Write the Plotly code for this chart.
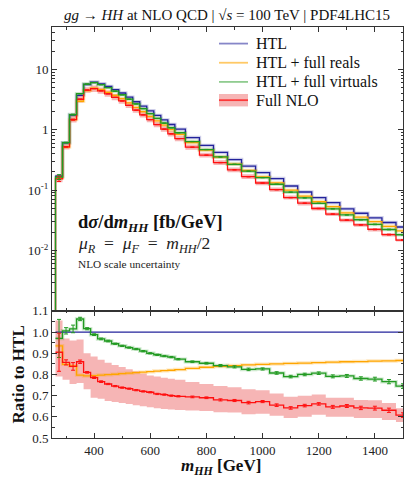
import plotly.graph_objects as go
from plotly.subplots import make_subplots

# ---------------- data ----------------
m_hh = [275, 300, 325, 350, 375, 400, 425, 450, 475, 500, 525, 550, 575, 600, 625, 650, 675, 700,
        750, 800, 850, 900, 950, 1000, 1050, 1100, 1150, 1200, 1250, 1300, 1350, 1400, 1450, 1500]

htl = [0.17, 0.607, 1.75, 3.71, 5.6, 6.1, 5.75, 5.2, 4.6, 4.05, 3.45, 2.9, 2.45, 2.05, 1.72, 1.45, 1.22, 1.02,
       0.74, 0.55, 0.42, 0.32, 0.25, 0.195, 0.155, 0.117, 0.093, 0.075, 0.062, 0.049, 0.0414, 0.0348, 0.0291, 0.0245]

ratio_reals = [0.935, 0.848, 0.84, 0.797, 0.793, 0.795, 0.797, 0.799, 0.801, 0.804, 0.806, 0.809, 0.811, 0.813,
               0.816, 0.818, 0.82, 0.823, 0.829, 0.834, 0.838, 0.842, 0.845, 0.848, 0.85, 0.852, 0.854, 0.856,
               0.858, 0.86, 0.861, 0.863, 0.864, 0.866]

ratio_virt = [0.97, 1.006, 1.015, 1.062, 1.016, 0.988, 0.968, 0.958, 0.945, 0.935, 0.927, 0.92, 0.91, 0.9,
              0.893, 0.887, 0.882, 0.872, 0.86, 0.853, 0.842, 0.836, 0.824, 0.826, 0.807, 0.79, 0.80, 0.806,
              0.791, 0.793, 0.781, 0.778, 0.766, 0.745]
err_virt = [0.09, 0.015, 0.018, 0.008, 0.005, 0.004, 0.004, 0.004, 0.003, 0.003, 0.003, 0.003, 0.003, 0.003,
            0.003, 0.003, 0.003, 0.003, 0.004, 0.004, 0.005, 0.005, 0.006, 0.005, 0.006, 0.006, 0.006, 0.006,
            0.007, 0.007, 0.008, 0.009, 0.01, 0.011]

ratio_nlo = [0.905, 0.857, 0.838, 0.86, 0.81, 0.785, 0.766, 0.755, 0.745, 0.738, 0.733, 0.726, 0.72, 0.716,
             0.708, 0.705, 0.7, 0.697, 0.694, 0.69, 0.68, 0.677, 0.667, 0.672, 0.655, 0.642, 0.653, 0.661,
             0.647, 0.651, 0.642, 0.641, 0.631, 0.608]
err_nlo = [0.09, 0.012, 0.018, 0.008, 0.004, 0.004, 0.004, 0.003, 0.003, 0.003, 0.003, 0.003, 0.003, 0.003,
           0.003, 0.003, 0.003, 0.003, 0.004, 0.004, 0.005, 0.005, 0.006, 0.005, 0.006, 0.006, 0.006, 0.006,
           0.007, 0.007, 0.008, 0.009, 0.01, 0.011]
nlo_up = [1.055, 0.97, 0.96, 0.965, 0.9, 0.885, 0.87, 0.855, 0.845, 0.835, 0.825, 0.815, 0.805, 0.795,
          0.79, 0.785, 0.78, 0.775, 0.765, 0.755, 0.745, 0.74, 0.73, 0.725, 0.71, 0.695, 0.7, 0.705,
          0.69, 0.69, 0.68, 0.678, 0.665, 0.64]
nlo_lo = [0.79, 0.775, 0.755, 0.76, 0.73, 0.69, 0.685, 0.675, 0.67, 0.665, 0.66, 0.655, 0.65, 0.645,
          0.64, 0.637, 0.635, 0.632, 0.63, 0.628, 0.622, 0.62, 0.612, 0.615, 0.605, 0.595, 0.6, 0.61,
          0.6, 0.6, 0.595, 0.594, 0.585, 0.575]

x_ticks = [400, 600, 800, 1000, 1200, 1400]
ratio_ticks = [0.5, 0.6, 0.7, 0.8, 0.9, 1.0, 1.1]
log_ticks = [0.01, 0.1, 1, 10]
log_ticktext = ["10<sup>-2</sup>", "10<sup>-1</sup>", "1", "10"]

legend_labels = ["HTL", "HTL + full reals", "HTL + full virtuals", "Full NLO"]

# ---------------- style ----------------
C_BLUE = "#23239b"
C_ORANGE = "#ffa500"
C_GREEN = "#229a22"
C_RED = "#ff1010"
C_BAND = "rgba(236,92,92,0.45)"
HALO = {"#23239b": "rgba(35,35,155,0.22)", "#ffa500": "rgba(255,165,0,0.25)",
        "#229a22": "rgba(34,154,34,0.22)"}
LEG_COL = {"#23239b": "rgba(35,35,155,0.55)", "#ffa500": "rgba(255,165,0,0.6)",
           "#229a22": "rgba(34,154,34,0.5)", "#ff1010": "rgba(255,16,16,0.75)"}
FONT = "Liberation Serif"

# ---------------- helpers ----------------
n = len(m_hh)
edges = [m_hh[0] - (m_hh[1] - m_hh[0]) / 2]
edges += [(m_hh[i] + m_hh[i + 1]) / 2 for i in range(n - 1)]
edges += [m_hh[-1] + (m_hh[-1] - m_hh[-2]) / 2]


def steps(vals, floor=None):
    xs = list(edges)
    ys = list(vals) + [vals[-1]]
    if floor is not None:
        xs = [edges[0]] + xs
        ys = [floor] + ys
    return xs, ys


ones = [h / h for h in htl]
reals = [h * r for h, r in zip(htl, ratio_reals)]
virt = [h * r for h, r in zip(htl, ratio_virt)]
nlo = [h * r for h, r in zip(htl, ratio_nlo)]
nlo_abs_up = [h * r for h, r in zip(htl, nlo_up)]
nlo_abs_lo = [h * r for h, r in zip(htl, nlo_lo)]
virt_abs_err = [h * e for h, e in zip(htl, err_virt)]
nlo_abs_err = [h * e for h, e in zip(htl, err_nlo)]

fig = make_subplots(rows=2, cols=1, shared_xaxes=True, vertical_spacing=0)

FLOOR = 1e-5
LW = 1.3

# ---- top panel ----
xs, ys = steps(nlo_abs_up)
fig.add_trace(go.Scatter(x=xs, y=ys, mode="lines", line=dict(width=0, shape="hv"),
                         hoverinfo="skip", showlegend=False), row=1, col=1)
xs, ys = steps(nlo_abs_lo)
fig.add_trace(go.Scatter(x=xs, y=ys, mode="lines", line=dict(width=0, shape="hv"),
                         fill="tonexty", fillcolor=C_BAND, hoverinfo="skip", showlegend=False), row=1, col=1)

for vals, col in [(htl, C_BLUE), (reals, C_ORANGE), (virt, C_GREEN)]:
    xs, ys = steps(vals)
    fig.add_trace(go.Scatter(x=xs, y=ys, mode="lines", line=dict(color=HALO[col], width=3.5, shape="hv"),
                             hoverinfo="skip", showlegend=False), row=1, col=1)

for vals, col in [(htl, C_BLUE), (reals, C_ORANGE), (nlo, C_RED), (virt, C_GREEN)]:
    xs, ys = steps(vals, FLOOR)
    fig.add_trace(go.Scatter(x=xs, y=ys, mode="lines", line=dict(color=col, width=LW, shape="hv"),
                             showlegend=False), row=1, col=1)

for vals, errs, col in [(nlo, nlo_abs_err, C_RED), (virt, virt_abs_err, C_GREEN)]:
    fig.add_trace(go.Scatter(x=m_hh, y=vals, mode="markers", marker=dict(size=0.1, color=col),
                             error_y=dict(type="data", array=errs, color=col, thickness=1, width=2),
                             showlegend=False), row=1, col=1)

# ---- ratio panel ----
xs, ys = steps(nlo_up)
fig.add_trace(go.Scatter(x=xs, y=ys, mode="lines", line=dict(width=0, shape="hv"),
                         hoverinfo="skip", showlegend=False), row=2, col=1)
xs, ys = steps(nlo_lo)
fig.add_trace(go.Scatter(x=xs, y=ys, mode="lines", line=dict(width=0, shape="hv"),
                         fill="tonexty", fillcolor=C_BAND, hoverinfo="skip", showlegend=False), row=2, col=1)

for vals, col in [(ratio_reals, C_ORANGE), (ratio_virt, C_GREEN)]:
    xs, ys = steps(vals)
    fig.add_trace(go.Scatter(x=xs, y=ys, mode="lines", line=dict(color=HALO[col], width=3.5, shape="hv"),
                             hoverinfo="skip", showlegend=False), row=2, col=1)

for vals, col in [(ones, C_BLUE), (ratio_reals, C_ORANGE), (ratio_virt, C_GREEN), (ratio_nlo, C_RED)]:
    xs, ys = steps(vals)
    fig.add_trace(go.Scatter(x=xs, y=ys, mode="lines", line=dict(color=col, width=LW, shape="hv"),
                             showlegend=False), row=2, col=1)

for vals, errs, col in [(ratio_virt, err_virt, C_GREEN), (ratio_nlo, err_nlo, C_RED)]:
    fig.add_trace(go.Scatter(x=m_hh, y=vals, mode="markers", marker=dict(size=0.1, color=col),
                             error_y=dict(type="data", array=errs, color=col, thickness=1, width=2),
                             showlegend=False), row=2, col=1)

# ---------------- layout ----------------
# the page body has an 8px margin, so the figure is drawn 8px in from the top-left corner
OFF = 8
W, H = 417 - OFF, 480 - OFF
L, R, T, B = 52 - OFF, 14, 24 - OFF, 42
PW, PH = W - L - R, H - T - B
split = (438 - 310) / PH


def px(xp):
    # page pixel -> paper fraction
    return (xp - OFF - L) / PW


def py(yp):
    return (H - B - (yp - OFF)) / PH


axis_common = dict(showline=True, linecolor="#333333", linewidth=1, mirror="allticks",
                   ticks="inside", ticklen=5, tickcolor="#333333", showgrid=False, zeroline=False,
                   tickfont=dict(family=FONT, size=13, color="#222222"))

minor_x = dict(ticks="inside", ticklen=2.5, tickcolor="#333333", tickmode="array",
               tickvals=[300, 500, 700, 900, 1100, 1300, 1500], showgrid=False)

fig.update_xaxes(range=[250, 1500], tickvals=x_ticks, minor=minor_x, **axis_common)
fig.update_xaxes(showticklabels=False, row=1, col=1)

log_minor = []
for dec in [0.001, 0.01, 0.1, 1, 10]:
    for k in range(2, 10):
        log_minor.append(dec * k)

fig.update_yaxes(type="log", range=[-3, 1.7], tickvals=log_ticks, ticktext=log_ticktext,
                 minor=dict(ticks="inside", ticklen=2.5, tickcolor="#333333", tickmode="array",
                            tickvals=log_minor, showgrid=False),
                 domain=[split, 1], row=1, col=1, **axis_common)
fig.update_yaxes(range=[0.5, 1.1], tickvals=ratio_ticks, tickformat=".1f",
                 minor=dict(ticks="inside", ticklen=2.5, tickcolor="#333333", tickmode="array",
                            tickvals=[0.55, 0.65, 0.75, 0.85, 0.95, 1.05], showgrid=False),
                 domain=[0, split], row=2, col=1, **axis_common)

shapes = []
annotations = []

# manual legend
leg_y = [40.7, 60.0, 79.3, 97.7]
leg_cols = [C_BLUE, C_ORANGE, C_GREEN, C_RED]
shapes.append(dict(type="rect", xref="paper", yref="paper", x0=px(219), x1=px(248),
                   y0=py(104), y1=py(91.5), fillcolor=C_BAND, line=dict(width=0), layer="above"))
for lab, yy, col in zip(legend_labels, leg_y, leg_cols):
    shapes.append(dict(type="line", xref="paper", yref="paper", x0=px(219), x1=px(248),
                       y0=py(yy), y1=py(yy), line=dict(color=LEG_COL[col], width=1.8), layer="above"))
    annotations.append(dict(x=px(254), y=py(yy), xref="paper", yref="paper", text=lab,
                            showarrow=False, xanchor="left", yanchor="middle",
                            font=dict(family=FONT, size=16, color="#111111")))

# panel texts
annotations.append(dict(x=px(76), y=py(222), xref="paper", yref="paper",
                        text="<b>d<i>σ</i>/d<i>m</i><sub><i>HH</i></sub> [fb/GeV]</b>",
                        showarrow=False, xanchor="left", yanchor="middle",
                        font=dict(family=FONT, size=18.5, color="#111111")))
annotations.append(dict(x=px(76), y=py(243), xref="paper", yref="paper",
                        text="<i>μ</i><sub><i>R</i></sub>\u2002=\u2002<i>μ</i><sub><i>F</i></sub>\u2002=\u2002<i>m</i><sub><i>HH</i></sub>/2",
                        showarrow=False, xanchor="left", yanchor="middle",
                        font=dict(family=FONT, size=17.5, color="#222222")))
annotations.append(dict(x=px(76), y=py(263), xref="paper", yref="paper",
                        text="NLO scale uncertainty", showarrow=False, xanchor="left", yanchor="middle",
                        font=dict(family=FONT, size=11.3, color="#222222")))

# title
annotations.append(dict(x=px(227), y=py(12), xref="paper", yref="paper",
                        text="<i>gg</i> → <i>HH</i> at NLO QCD | √<i>s</i> = 100 TeV | PDF4LHC15",
                        showarrow=False, xanchor="center", yanchor="middle",
                        font=dict(family=FONT, size=15, color="#111111")))

# axis titles
annotations.append(dict(x=px(221), y=py(467), xref="paper", yref="paper",
                        text="<b><i>m</i><sub><i>HH</i></sub> [GeV]</b>",
                        showarrow=False, xanchor="center", yanchor="middle",
                        font=dict(family=FONT, size=17, color="#111111")))
annotations.append(dict(x=px(18), y=py(374), xref="paper", yref="paper",
                        text="<b>Ratio to HTL</b>", textangle=-90,
                        showarrow=False, xanchor="center", yanchor="middle",
                        font=dict(family=FONT, size=17, color="#111111")))

fig.update_layout(width=W, height=H, margin=dict(l=L, r=R, t=T, b=B),
                  paper_bgcolor="white", plot_bgcolor="white", showlegend=False,
                  shapes=shapes, annotations=annotations,
                  font=dict(family=FONT, size=13, color="#222222"))

fig.write_html("out.html")
